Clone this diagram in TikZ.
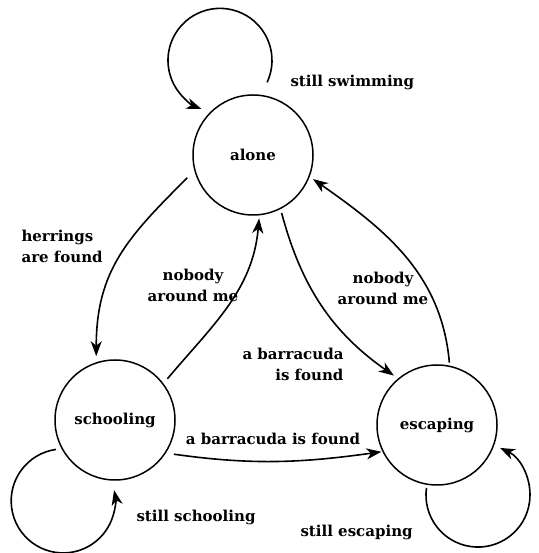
\documentclass[tikz,border=0pt]{standalone}
\usepackage{fontspec}
\setmainfont{DejaVu Serif}
\usetikzlibrary{arrows.meta}

\begin{document}
\begin{tikzpicture}[
		x=1pt, y=1pt,
		every node/.style={font=\bfseries\fontsize{15}{21}\selectfont},
		state/.style={draw, circle, line width=1.5pt, minimum size=120pt, inner sep=0pt},
		trans/.style={draw, -{Stealth[length=15pt, width=11pt, inset=4.5pt]}, line width=1.6pt}
		]
		\useasboundingbox (0,0) rectangle (538,553);
		
		% the three states
		\node[state] (alone) at (253,398) {alone};
		\node[state] (school) at (115,133) {schooling};
		\node[state] (escape) at (437,128) {escaping};
		
		% transitions between states
		\draw[trans, shorten <=10pt, shorten >=6pt] (alone.195) to[out=225, in=90, looseness=1.1] (school.108);
		\draw[trans, shorten <=6pt, shorten >=3pt] (school.37) to[out=50, in=265] (alone.276);
		\draw[trans, shorten <=4pt, shorten >=5pt] (alone.297) to[out=285, in=145] (escape.130);
		\draw[trans, shorten <=3pt, shorten >=4pt] (escape.78) to[out=95, in=-35] (alone.339);
		\draw[trans, shorten <=8pt, shorten >=1pt] (school.327) to[out=-8, in=188] (escape.206);
		
		% loops, started just outside their state
		\draw[trans] ([shift={(79:74)}]alone.center) arc[start angle=-25, end angle=249, radius=52];
		\draw[trans] ([shift={(206.5:66)}]school.center) arc[start angle=98, end angle=372, radius=52];
		\draw[trans] ([shift={(260.5:63.7)}]escape.center) arc[start angle=172, end angle=425, radius=52];
		
		% labels
		\node[anchor=west] (swimLbl) at (287,471) {still swimming};
		\node[anchor=west, align=left] (herrLbl) at (18,307) {herrings\\are found};
		\node[align=center] (nobodyL) at (193,268) {nobody\\around me};
		\node[anchor=east, align=right] (barraA) at (347,189) {a barracuda\\is found};
		\node[align=center] (nobodyR) at (383,265) {nobody\\around me};
		\node (barraB) at (273,114) {a barracuda is found};
		\node[anchor=west] (schoolLbl) at (133,36) {still schooling};
		\node[anchor=west] (escLbl) at (297,21) {still escaping};
	\end{tikzpicture}
\end{document}
